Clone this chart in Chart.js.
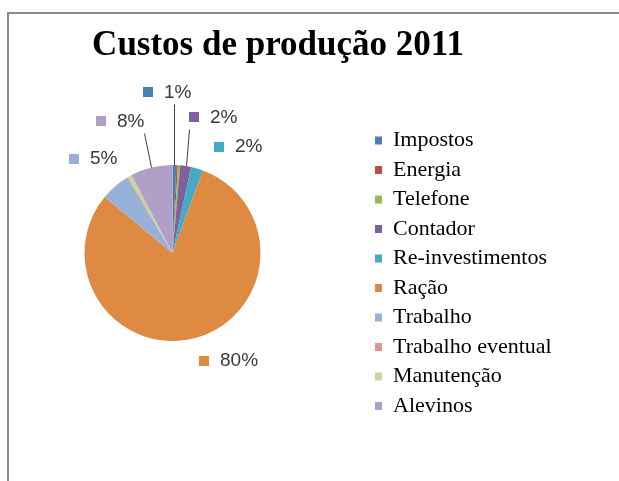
<!DOCTYPE html>
<html>
<head>
<meta charset="utf-8">
<script src="https://cdn.jsdelivr.net/npm/chart.js@4/dist/chart.umd.min.js"></script>
<style>
  html, body { margin: 0; padding: 0; background: #fff; overflow: hidden; }
  body { width: 619px; height: 481px; position: relative; }
  #frame { position: absolute; left: 7px; top: 12px; width: 700px; height: 600px;
           border-top: 2px solid #8c8c8c; border-left: 2px solid #8c8c8c; }
  #wrap { position: absolute; left: -30px; top: 0; width: 650px; height: 481px; }
</style>
</head>
<body>
<div id="frame"></div>
<div id="wrap"><canvas id="chart"></canvas></div>
<script>
// cost items, in legend order
const categories = ['Impostos', 'Energia', 'Telefone', 'Contador', 'Re-investimentos',
    'Ração', 'Trabalho', 'Trabalho eventual', 'Manutenção', 'Alevinos'];
// share of total cost (%)
const shares = [0.7, 0.3, 0.4, 2.0, 2.2, 80.4, 5.4, 0.2, 0.7, 7.7];
const sliceColors = ['#4a7ebb', '#be4b48', '#98b954', '#7d60a0', '#46aac5',
    '#de8a42', '#98b1d9', '#d99694', '#c3d69b', '#b0a0c8'];
// where the data labels sit: [degrees clockwise from 12 o'clock, distance in radii]; null = no label
const labelSpots = [[358.2, 1.825], null, null, [16.9, 1.61], [31.9, 1.42],
    [152.4, 1.385], [320, 1.395], null, null, [338.2, 1.61]];

const KEY = 10, GAP = 11;

// percent labels with a colour key, leader line for the far ones
const pieLabels = {
    id: 'pieLabels',
    afterDatasetsDraw(chart) {
        const ctx = chart.ctx;
        const data = chart.data.datasets[0].data;
        const total = data.reduce((a, b) => a + b, 0);
        chart.getDatasetMeta(0).data.forEach((arc, i) => {
            const spot = labelSpots[i];
            if (!spot) return;
            const { x, y, startAngle, endAngle, outerRadius } =
                arc.getProps(['x', 'y', 'startAngle', 'endAngle', 'outerRadius'], true);
            const text = Math.round(data[i] / total * 100) + '%';
            ctx.save();
            ctx.font = '19px "Liberation Sans", Arial, sans-serif';
            const groupW = KEY + GAP + ctx.measureText(text).width;
            const a = spot[0] * Math.PI / 180 - Math.PI / 2;
            const cx = x + Math.cos(a) * outerRadius * spot[1];
            const cy = y + Math.sin(a) * outerRadius * spot[1];
            const left = Math.round(cx - groupW / 2);
            if (spot[1] > 1.5) {
                const mid = (startAngle + endAngle) / 2;
                const ex = x + Math.cos(mid) * outerRadius;
                const ey = y + Math.sin(mid) * outerRadius;
                const sx = Math.round(Math.min(Math.max(ex, left), left + groupW)) + 0.5;
                ctx.strokeStyle = '#404040';
                ctx.lineWidth = 1;
                ctx.beginPath();
                ctx.moveTo(sx, cy + 12);
                ctx.lineTo(Math.round(ex) + 0.5, ey);
                ctx.stroke();
            }
            ctx.fillStyle = sliceColors[i];
            ctx.fillRect(left, Math.round(cy - KEY / 2), KEY, KEY);
            ctx.fillStyle = '#3a3a3a';
            ctx.textBaseline = 'middle';
            ctx.textAlign = 'left';
            ctx.fillText(text, left + KEY + GAP, cy);
            ctx.restore();
        });
    }
};

// keep the legend box wide so the title centres like the original
const legendWidth = {
    id: 'legendWidth',
    beforeInit(chart) {
        const fit = chart.legend.fit;
        chart.legend.fit = function () {
            fit.call(this);
            this.width = 211;
        };
    }
};

new Chart(document.getElementById('chart'), {
    type: 'pie',
    data: {
        labels: categories,
        datasets: [{
            data: shares,
            backgroundColor: sliceColors,
            borderWidth: 0,
            radius: 88
        }]
    },
    options: {
        responsive: true,
        maintainAspectRatio: false,
        animation: false,
        layout: { padding: { left: 7.5, right: 41.5, top: 0, bottom: 56.5 } },
        plugins: {
            title: {
                display: true,
                text: 'Custos de produção 2011',
                color: '#000',
                font: { family: '"Liberation Serif", "Times New Roman", serif', size: 35, weight: 'bold' },
                padding: { top: 25, bottom: 14.5 }
            },
            legend: {
                position: 'right',
                align: 'end',
                fullSize: false,
                labels: {
                    color: '#000',
                    boxWidth: 7,
                    boxHeight: 8,
                    padding: 7.5,
                    font: { family: '"Liberation Serif", "Times New Roman", serif', size: 22 }
                }
            },
            tooltip: { enabled: false }
        }
    },
    plugins: [pieLabels, legendWidth]
});
</script>
</body>
</html>
